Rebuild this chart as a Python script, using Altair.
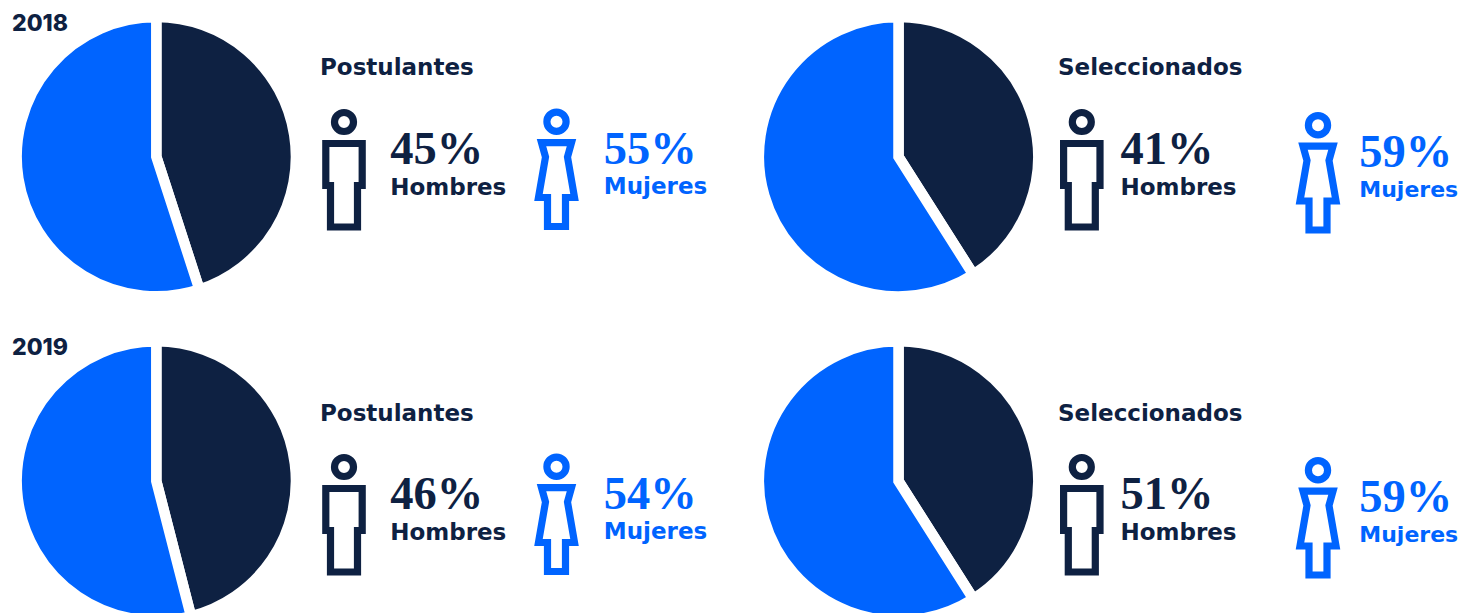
import altair as alt
import pandas as pd

DARK = "#0E2142"
BLUE = "#0064FF"
SANS = "DejaVu Sans"
YEARF = "Inter"
SERIF = "Liberation Serif"

# --- data ---
years = ["2018", "2019"]
groups = ["Postulantes", "Seleccionados"]
sexes = ["Hombres", "Mujeres"]
pie_hombres = [45, 41, 46, 41]          # drawn slice sizes
pie_mujeres = [55, 59, 54, 59]
label_hombres = ["45%", "41%", "46%", "51%"]  # printed labels
label_mujeres = ["55%", "59%", "54%", "59%"]

# --- layout (page coordinates, the page has an 8px margin) ---
M = 8
pie_cx = [156.3, 898.5]
pie_cy = [156.7, 481]
ROW_DY = 345
R = 134.4
GAP = 10.5

MAN = ("M-18.2,-41.5H18.2V0.5H13.5V42H-13.5V0.5H-18.2Z "
       "M9.5,-63A9.5,9.5 0 1 1 -9.5,-63A9.5,9.5 0 1 1 9.5,-63Z")
WOMAN = ("M-15,-42.3H15L11,-28L18,12.5H9V41.5H-9V12.5H-18L-11,-28Z "
         "M9.6,-63.3A9.6,9.6 0 1 1 -9.6,-63.3A9.6,9.6 0 1 1 9.6,-63.3Z")

cols = [
    dict(title=320, man=344, ht=390.2, woman=556.5, mt=603.8, wy=185, mb=164, lb=193.5, ls=23),
    dict(title=1058, man=1081.8, ht=1120.4, woman=1318, mt=1359.3, wy=188.5, mb=167, lb=197, ls=22),
]


def txt(s, x, y, size, color, font=SANS, weight=700):
    return alt.Chart(pd.DataFrame({"t": [s]})).mark_text(
        align="left", baseline="alphabetic", font=font, fontSize=size,
        fontWeight=weight, color=color,
    ).encode(text="t:N", x=alt.value(x - M), y=alt.value(y - M))


def icon(path, x, y, color):
    return alt.Chart(pd.DataFrame({"k": [0]})).mark_point(
        shape=path, size=4, filled=False, fill="transparent", stroke=color,
        strokeWidth=7.2, strokeJoin="miter", strokeMiterLimit=10, opacity=1,
    ).encode(x=alt.value(x - M), y=alt.value(y - M))


def pie(h, m, cx, cy):
    df = pd.DataFrame({"sexo": sexes, "v": [h, m]})
    return alt.Chart(df).mark_arc(
        outerRadius=R + GAP / 2, stroke="white", strokeWidth=GAP, strokeJoin="miter",
    ).encode(
        theta=alt.Theta("v:Q", stack=True,
                        scale=alt.Scale(domain=[0, 100], range=[0, 6.283185307])),
        color=alt.Color("sexo:N", legend=None,
                        scale=alt.Scale(domain=sexes, range=[DARK, BLUE])),
        order=alt.Order("sexo:N"),
        x=alt.value(cx - M), y=alt.value(cy - M),
    )


layers = []
for r, year in enumerate(years):
    dy = ROW_DY * r
    layers.append(txt(year, 12, 30.5 + 324 * r, 23, DARK, YEARF, 800))
    for c, group in enumerate(groups):
        i = r * 2 + c
        L = cols[c]
        layers.append(pie(pie_hombres[i], pie_mujeres[i], pie_cx[c], pie_cy[r]))
        layers.append(txt(group, L["title"], 75 + dy + r, 23, DARK))
        layers.append(icon(MAN, L["man"], 185 + dy, DARK))
        layers.append(icon(WOMAN, L["woman"], L["wy"] + dy, BLUE))
        layers.append(txt(label_hombres[i], L["ht"], 164 + dy, 46.5, DARK, SERIF))
        layers.append(txt("Hombres", L["ht"], 194.5 + dy, 23, DARK))
        layers.append(txt(label_mujeres[i], L["mt"], L["mb"] + dy, 46.5, BLUE, SERIF))
        layers.append(txt("Mujeres", L["mt"], L["lb"] + dy, L["ls"], BLUE))

chart = alt.layer(*layers).resolve_scale(theta="shared", color="shared").properties(
    width=1451, height=605, padding=0,
    autosize=alt.AutoSizeParams(type="none"),
    background="white",
).configure_view(stroke=None)

chart.save("out.html", embed_options={"renderer": "svg", "actions": False})
